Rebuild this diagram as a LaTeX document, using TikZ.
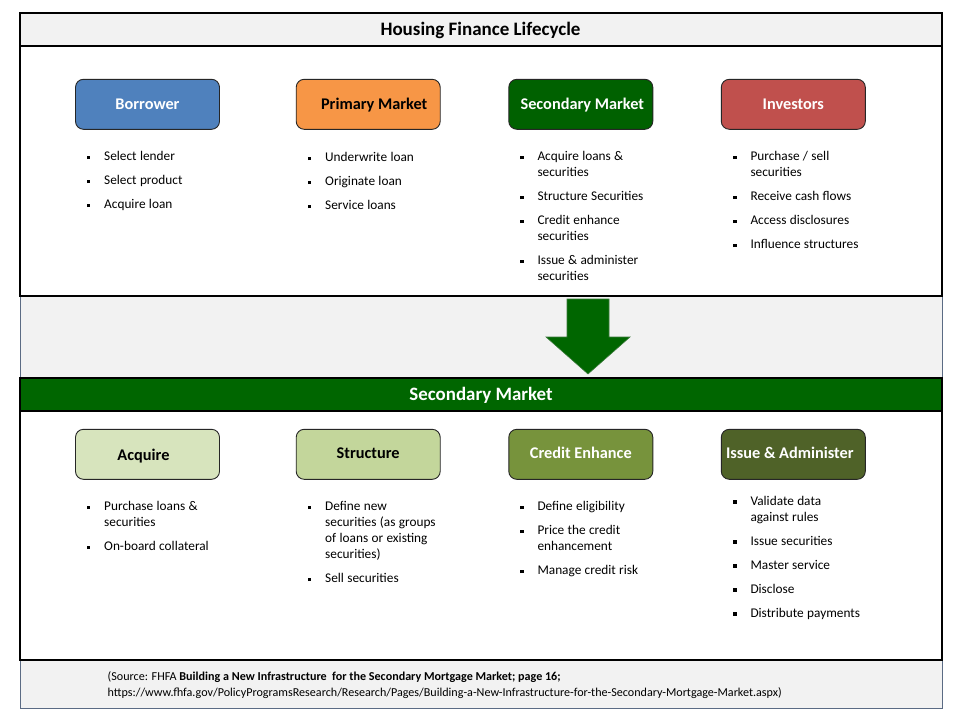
\documentclass[tikz,border=0pt]{standalone}
\usepackage{fontspec}
\setmainfont{Carlito}
\usetikzlibrary{calc}
\definecolor{hgray}{HTML}{F2F2F2}
\definecolor{slate}{HTML}{5B6B84}
\definecolor{mgreen}{HTML}{006600}
\definecolor{cborrow}{HTML}{4F81BD}
\definecolor{cprimary}{HTML}{F79646}
\definecolor{csecond}{HTML}{006100}
\definecolor{cinvest}{HTML}{C0504D}
\definecolor{cacq}{HTML}{D7E4BD}
\definecolor{cstruct}{HTML}{C3D69B}
\definecolor{ccredit}{HTML}{77933C}
\definecolor{cissue}{HTML}{4F6228}
\definecolor{cedge}{HTML}{3C7A3C}
\newcommand{\bul}{\hangindent=17.5pt\hangafter=1\noindent\makebox[17.5pt][l]{\rule[1.5pt]{3.5pt}{3.5pt}}}
\newcommand{\lsetup}{\fontsize{13.3}{16}\selectfont\setlength{\parskip}{8pt}}
\begin{document}
\begin{tikzpicture}[x=1pt,y=-1pt,
  box/.style={draw=black!85, line width=0.9pt, rounded corners=8pt,
    minimum width=144pt, minimum height=50pt, inner sep=0pt,
    font=\bfseries\fontsize{16.3}{19}\selectfont, text height=10.5pt, text depth=0pt},
  blist/.style={anchor=base west, inner sep=0pt, text width=180pt, align=left},
  frame/.style={line width=2pt, draw=black},
  thinframe/.style={line width=0.8pt, draw=slate}]
\useasboundingbox (0,0) rectangle (960,720);
\fill[white] (0,0) rectangle (960,720);

% gap region between the two panels
\fill[hgray] (20,296) rectangle (942,378);
\draw[thinframe] (20,296) -- (20,378) (942,296) -- (942,378);

% source box
\draw[thinframe, fill=hgray] (20,660) rectangle (942,708);
\node[anchor=base west, inner sep=0pt, font=\fontsize{12.1}{14}\selectfont] (src1) at (107.5,680)
  {(Source: FHFA \textbf{Building a New Infrastructure\ \ for the\ Secondary Mortgage Market; page 16;}};
\node[anchor=base west, inner sep=0pt, font=\fontsize{12.1}{14}\selectfont] (src2) at (107.5,696)
  {https://www.fhfa.gov/PolicyProgramsResearch/Research/Pages/Building-a-New-Infrastructure-for-the-Secondary-Mortgage-Market.aspx)};

% top panel
\fill[hgray] (20,13) rectangle (942,46);
\draw[frame] (20,13) rectangle (942,296);
\draw[frame] (20,46) -- (942,46);
\node[font=\bfseries\fontsize{19}{22}\selectfont, text height=12.2pt, text depth=0pt, inner sep=0pt] (title) at (480.5,29.7) {Housing Finance Lifecycle};

% bottom panel
\fill[mgreen] (20,378) rectangle (942,411);
\draw[frame] (20,378) rectangle (942,660);
\draw[frame] (20,411) -- (942,411);
\node[font=\bfseries\fontsize{18.9}{22}\selectfont, text=white, text height=12.2pt, text depth=0pt, inner sep=0pt] (band) at (481,394.5) {Secondary Market};

% arrow
\coordinate (atop) at (588,299);
\coordinate (atip) at (588,374);
\filldraw[fill=mgreen, draw=cedge, line width=0.6pt]
  ($(atop)+(-21,0)$) -- ($(atop)+(21,0)$) -- ($(atop)+(21,38)$) -- ($(atop)+(42,38)$)
  -- (atip) -- ($(atop)+(-42,38)$) -- ($(atop)+(-21,38)$) -- cycle;

% row 1 boxes
\node[box, fill=cborrow, text=white] (borrower) at (147.5,104.3) {Borrower};
\node[box, fill=cprimary, text=black] (primary) at (368.2,104.3) {\hspace*{12pt}Primary Market};
\node[box, fill=csecond, text=white] (secondary) at (580.8,104.3) {\hspace*{3pt}Secondary Market};
\node[box, fill=cinvest, text=white] (investors) at (793.3,104.3) {Investors};

% row 1 lists
\node[blist] (lborrower) at (86.5,160.5) {\lsetup
  \bul Select lender\par
  \bul Select product\par
  \bul Acquire loan\par};
\node[blist] (lprimary) at (307.5,161.5) {\lsetup
  \bul Underwrite loan\par
  \bul Originate loan\par
  \bul Service loans\par};
\node[blist] (lsecondary) at (519.8,160.5) {\lsetup
  \bul Acquire loans \&\newline securities\par
  \bul Structure Securities\par
  \bul Credit enhance\newline securities\par
  \bul Issue \& administer\newline securities\par};
\node[blist] (linvestors) at (732.8,160.5) {\lsetup
  \bul Purchase / sell\newline securities\par
  \bul Receive cash flows\par
  \bul Access disclosures\par
  \bul Influence structures\par};

% row 2 boxes
\node[box, fill=cacq, text=black] (acquire) at (147.5,454.3) {\raisebox{-1pt}{Acquire}\hspace*{8pt}};
\node[box, fill=cstruct, text=black] (structure) at (368.2,454.3) {\raisebox{1.5pt}{Structure}};
\node[box, fill=ccredit, text=white] (credit) at (580.8,454.3) {\raisebox{1.5pt}{Credit Enhance}};
\node[box, fill=cissue, text=white] (issue) at (793.3,454.3) {\raisebox{1.5pt}{Issue \& Administer}\hspace*{7pt}};

% row 2 lists
\node[blist] (lacquire) at (86.5,510.7) {\lsetup
  \bul Purchase loans \&\newline securities\par
  \bul On-board collateral\par};
\node[blist] (lstructure) at (307.5,510.7) {\lsetup
  \bul Define new\newline securities (as groups\newline of loans or existing\newline securities)\par
  \bul Sell securities\par};
\node[blist] (lcredit) at (519.8,510.7) {\lsetup
  \bul Define eligibility\par
  \bul Price the credit\newline enhancement\par
  \bul Manage credit risk\par};
\node[blist] (lissue) at (732.8,505.3) {\lsetup
  \bul Validate data\newline against rules\par
  \bul Issue securities\par
  \bul Master service\par
  \bul Disclose\par
  \bul Distribute payments\par};
\end{tikzpicture}
\end{document}
